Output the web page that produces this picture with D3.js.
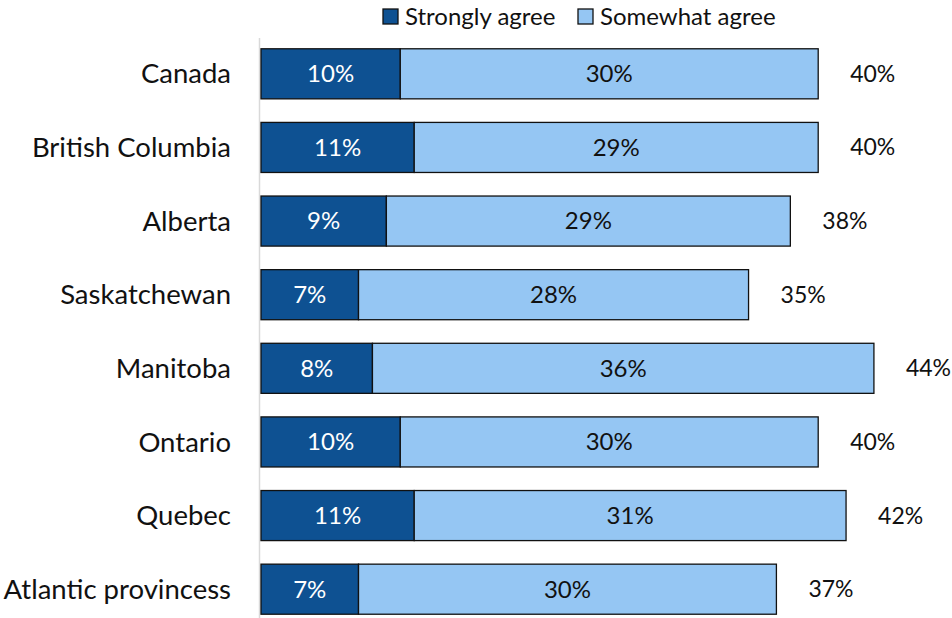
<!DOCTYPE html>
<html>
<head>
<meta charset="utf-8">
<script src="https://cdn.jsdelivr.net/npm/d3@7"></script>
<style>
  html, body { margin: 0; padding: 0; background: #ffffff; }
  svg text { font-family: Lato, "Open Sans", sans-serif; }
</style>
</head>
<body>
<svg id="chart" width="952" height="618"></svg>
<script>
// Share of respondents who agree, by region (percent)
const regions = ["Canada", "British Columbia", "Alberta", "Saskatchewan",
                 "Manitoba", "Ontario", "Quebec", "Atlantic provincess"];
const stronglyAgree = [10, 11, 9, 7, 8, 10, 11, 7];
const somewhatAgree = [30, 29, 29, 28, 36, 30, 31, 30];
const seriesNames = ["Strongly agree", "Somewhat agree"];
const seriesColors = ["#0e5192", "#95c6f3"];
const labelColors = ["#ffffff", "#111111"];

const svg = d3.select("#chart");
const fontSize = 24;
const categoryFontSize = 27.5;
const totalFontSize = 23;

const x = d3.scaleLinear().domain([0, 50]).range([261, 261 + 696.5]);
const y = d3.scaleBand().domain(regions).range([37, 626]).paddingInner(0.32).paddingOuter(0.16);

const rows = regions.map((r, i) => ({
  region: r,
  values: [stronglyAgree[i], somewhatAgree[i]],
  total: stronglyAgree[i] + somewhatAgree[i]
}));

// vertical category axis line
svg.append("line")
  .attr("x1", 259.5).attr("x2", 259.5)
  .attr("y1", 38).attr("y2", 618)
  .attr("stroke", "#d9d9d9").attr("stroke-width", 1.5);

// category labels
const yAxis = d3.axisLeft(y).tickSize(0).tickPadding(0);
const yg = svg.append("g").attr("transform", "translate(231,0)").call(yAxis);
yg.select(".domain").remove();
yg.selectAll("text")
  .attr("font-size", categoryFontSize)
  .attr("fill", "#111")
  .attr("font-family", "Lato, 'Open Sans', sans-serif")
  .attr("dy", "0.35em");

// stacked segments
const stack = d3.stack().keys([0, 1]).value((d, k) => d.values[k]);
const layers = stack(rows);

layers.forEach((layer, k) => {
  const g = svg.append("g");
  g.selectAll("rect").data(layer).join("rect")
    .attr("x", d => x(d[0]))
    .attr("y", d => y(d.data.region))
    .attr("width", d => x(d[1]) - x(d[0]))
    .attr("height", y.bandwidth())
    .attr("fill", seriesColors[k])
    .attr("stroke", "#111")
    .attr("stroke-width", 1.3);
  g.selectAll("text").data(layer).join("text")
    .attr("x", d => (x(d[0]) + x(d[1])) / 2)
    .attr("y", d => y(d.data.region) + y.bandwidth() / 2)
    .attr("dy", "0.35em")
    .attr("text-anchor", "middle")
    .attr("font-size", fontSize)
    .attr("fill", labelColors[k])
    .text(d => d.data.values[k] + "%");
});

// totals to the right of each bar
svg.append("g").selectAll("text").data(rows).join("text")
  .attr("x", d => x(d.total) + 32)
  .attr("y", d => y(d.region) + y.bandwidth() / 2)
  .attr("dy", "0.35em")
  .attr("text-anchor", "start")
  .attr("font-size", totalFontSize)
  .attr("fill", "#111")
  .text(d => d.total + "%");

// legend
const legendX = [383, 578];
const legend = svg.append("g");
seriesNames.forEach((name, k) => {
  legend.append("rect")
    .attr("x", legendX[k]).attr("y", 9)
    .attr("width", 15).attr("height", 15)
    .attr("fill", seriesColors[k])
    .attr("stroke", "#111").attr("stroke-width", 1.3);
  legend.append("text")
    .attr("x", legendX[k] + 22).attr("y", 16.5)
    .attr("dy", "0.35em")
    .attr("font-size", fontSize)
    .attr("fill", "#111")
    .text(name);
});
</script>
</body>
</html>
